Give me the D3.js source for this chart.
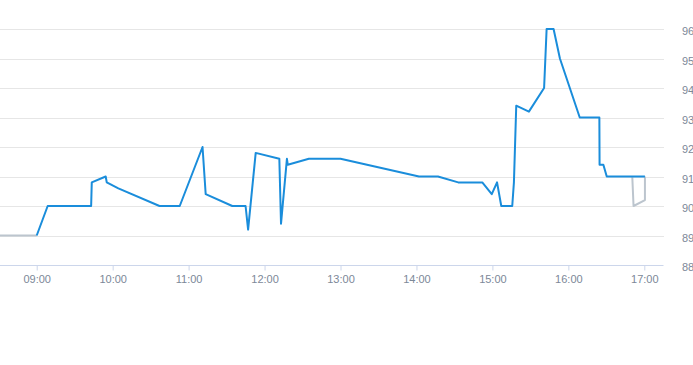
<!DOCTYPE html>
<html><head><meta charset="utf-8">
<script src="https://cdn.jsdelivr.net/npm/d3@7"></script>
<style>
html,body{margin:0;padding:0;background:#fff;}
svg{display:block;font-family:"Liberation Sans",Arial,sans-serif;}
</style></head>
<body><svg id="chart" width="693" height="365"></svg>
<script>
// ---- data ----
const blueTimes = ["09:00:00","09:08:40","09:43:00","09:43:30","09:54:30","09:55:20","10:04:30","10:37:00","10:53:00","11:11:00","11:13:30","11:34:30","11:45:00","11:47:00","11:53:00","12:11:40","12:13:00","12:17:40","12:18:20","12:35:00","13:00:00","14:02:00","14:17:00","14:33:00","14:52:00","14:59:30","15:03:40","15:07:00","15:15:40","15:17:00","15:18:50","15:28:50","15:40:50","15:42:50","15:48:20","15:53:20","16:09:00","16:24:30","16:24:40","16:27:40","16:30:20","17:00:30"];
const blueValues = [89.0,90.0,90.0,90.8,91.0,90.8,90.6,90.0,90.0,92.0,90.4,90.0,90.0,89.2,91.8,91.6,89.4,91.6,91.4,91.6,91.6,91.0,91.0,90.8,90.8,90.4,90.8,90.0,90.0,90.8,93.4,93.2,94.0,96.0,96.0,95.0,93.0,93.0,91.4,91.4,91.0,91.0];
const greyTimes = ["08:20:00","09:00:00","12:00:00","16:50:30","16:51:30","17:00:30","17:00:30"];
const greyValues = [89.0,89.0,null,91.0,90.0,90.2,91.0];
const xTickLabels = ["09:00","10:00","11:00","12:00","13:00","14:00","15:00","16:00","17:00"];
const yTickValues = [88,89,90,91,92,93,94,95,96];

// ---- helpers ----
const parse = d3.timeParse("%Y-%m-%d %H:%M:%S");
const t = s => parse("2020-01-01 " + (s.length === 5 ? s + ":00" : s));

const svg = d3.select("#chart");
const x = d3.scaleTime().domain([t("08:31:00"), t("17:15:10")]).range([0, 663.5]);
const y = d3.scaleLinear().domain([88, 96]).range([265, 29]);

// gridlines
svg.append("g").selectAll("line").data(yTickValues.slice(1)).join("line")
  .attr("x1", 0).attr("x2", 664)
  .attr("y1", d => Math.round(y(d)) + 0.5).attr("y2", d => Math.round(y(d)) + 0.5)
  .attr("stroke", "#e6e6e6").attr("stroke-width", 1);

// y labels (right)
svg.append("g").selectAll("text").data(yTickValues).join("text")
  .attr("x", 682).attr("y", d => y(d) + 6)
  .attr("font-size", 11).attr("fill", "#7c8898")
  .text(d => d);

// x axis
const xAxis = d3.axisBottom(x)
  .tickValues(xTickLabels.map(t))
  .tickFormat(d3.timeFormat("%H:%M"))
  .tickSize(5).tickPadding(5);
const gx = svg.append("g").attr("transform", "translate(0,265.5)").call(xAxis);
gx.select(".domain").attr("stroke", "#ccd6eb").attr("d", "M0,0H663.5");
gx.selectAll(".tick line").attr("stroke", "#ccd6eb");
gx.selectAll(".tick text").attr("fill", "#7c8898").attr("font-size", 11)
  .attr("font-family", "Liberation Sans, Arial, sans-serif");

// clip
svg.append("clipPath").attr("id", "clip").append("rect")
  .attr("x", 0).attr("y", 0).attr("width", 664).attr("height", 300);

const line = d3.line()
  .defined(d => d.v !== null)
  .x(d => x(d.t)).y(d => y(d.v));

const grey = greyTimes.map((s, i) => ({t: t(s), v: greyValues[i]}));
const blue = blueTimes.map((s, i) => ({t: t(s), v: blueValues[i]}));

svg.append("path").datum(grey).attr("clip-path", "url(#clip)")
  .attr("d", line).attr("fill", "none")
  .attr("stroke", "#bcc5ce").attr("stroke-width", 2).attr("stroke-linejoin", "round");

svg.append("path").datum(blue).attr("clip-path", "url(#clip)")
  .attr("d", line).attr("fill", "none")
  .attr("stroke", "#1a8ddb").attr("stroke-width", 2).attr("stroke-linejoin", "round");
</script>
</body></html>
